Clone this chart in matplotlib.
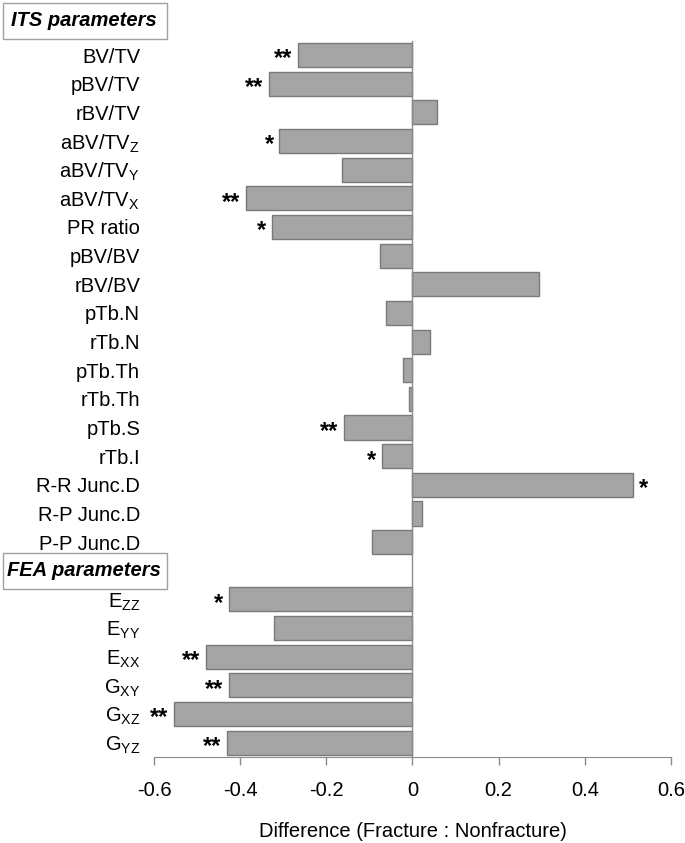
import matplotlib
matplotlib.use('Agg')
import matplotlib.pyplot as plt
from matplotlib.patches import Rectangle

plt.rcParams['font.family'] = ['Liberation Sans', 'DejaVu Sans']
plt.rcParams['mathtext.fontset'] = 'custom'
plt.rcParams['mathtext.rm'] = 'Liberation Sans'

# ITS parameters (top block) and FEA parameters (bottom block)
its_labels = ['BV/TV', 'pBV/TV', 'rBV/TV',
              r'aBV/TV$_\mathregular{Z}$', r'aBV/TV$_\mathregular{Y}$', r'aBV/TV$_\mathregular{X}$',
              'PR ratio', 'pBV/BV', 'rBV/BV', 'pTb.N', 'rTb.N', 'pTb.Th', 'rTb.Th',
              'pTb.S', 'rTb.I', 'R-R Junc.D', 'R-P Junc.D', 'P-P Junc.D']
its_values = [-0.266, -0.333, 0.056, -0.309, -0.164, -0.387, -0.327, -0.076, 0.294,
              -0.061, 0.040, -0.022, -0.008, -0.159, -0.071, 0.512, 0.021, -0.093]
its_stars = ['**', '**', '', '*', '', '**', '*', '', '', '', '', '', '', '**', '*', '*', '', '']

fea_labels = [r'E$_\mathregular{ZZ}$', r'E$_\mathregular{YY}$', r'E$_\mathregular{XX}$',
              r'G$_\mathregular{XY}$', r'G$_\mathregular{XZ}$', r'G$_\mathregular{YZ}$']
fea_values = [-0.426, -0.322, -0.479, -0.427, -0.553, -0.431]
fea_stars = ['*', '', '**', '**', '**', '**']

bar_color = '#a5a5a5'
edge_color = '#7a7a7a'
axis_color = '#8c8c8c'

labels = its_labels + fea_labels
values = its_values + fea_values
stars = its_stars + fea_stars
# leave one empty slot between the two blocks for the FEA header
positions = list(range(len(its_labels))) + [len(its_labels) + 1 + i for i in range(len(fea_labels))]
fea_header_pos = len(its_labels)

fig = plt.figure(figsize=(6.85, 8.43), dpi=100)
ax = fig.add_axes([0.2248, 0.102, 0.7547, 0.8497])

ax.barh(positions, values, height=0.84, color=bar_color, edgecolor=edge_color, linewidth=1, zorder=2)
ax.axvline(0, color=axis_color, linewidth=1, zorder=3)

for p, v, s in zip(positions, values, stars):
    if not s:
        continue
    if v < 0:
        ax.annotate(s, (v, p), xytext=(-4, -7.5), textcoords='offset points',
                    ha='right', va='baseline', fontsize=17, fontweight='bold')
    else:
        ax.annotate(s, (v, p), xytext=(4, -7.5), textcoords='offset points',
                    ha='left', va='baseline', fontsize=17, fontweight='bold')

ax.set_xlim(-0.6, 0.6)
ax.set_ylim(positions[-1] + 0.5, -0.5)
ax.set_xticks([-0.6, -0.4, -0.2, 0, 0.2, 0.4, 0.6])
ax.set_xticklabels(['-0.6', '-0.4', '-0.2', '0', '0.2', '0.4', '0.6'])
ax.set_yticks(positions)
ax.set_yticklabels(labels)

for side in ['left', 'top', 'right']:
    ax.spines[side].set_visible(False)
ax.spines['bottom'].set_color(axis_color)
ax.tick_params(axis='x', direction='out', length=6, width=1, color=axis_color,
               labelsize=14.5, pad=11)
ax.tick_params(axis='y', length=0, labelsize=14.5, pad=10)
ax.set_xlabel('Difference (Fracture : Nonfracture)', fontsize=14.5, labelpad=16)

# boxed section headers
def header(text, y_center_fig):
    box_h = 36 / 843
    fig.patches.append(Rectangle((3 / 685, y_center_fig - box_h / 2), 164 / 685, box_h,
                                 transform=fig.transFigure, facecolor='white',
                                 edgecolor='#a0a0a0', linewidth=1))
    fig.text(84 / 685, y_center_fig, text, ha='center', va='center',
             fontsize=14.5, fontweight='bold', fontstyle='italic')

header('ITS parameters', 1 - 21 / 843)
fea_y = fig.transFigure.inverted().transform(ax.transData.transform((0, fea_header_pos)))[1]
header('FEA parameters', fea_y)

fig.savefig('out.png', dpi=100)
